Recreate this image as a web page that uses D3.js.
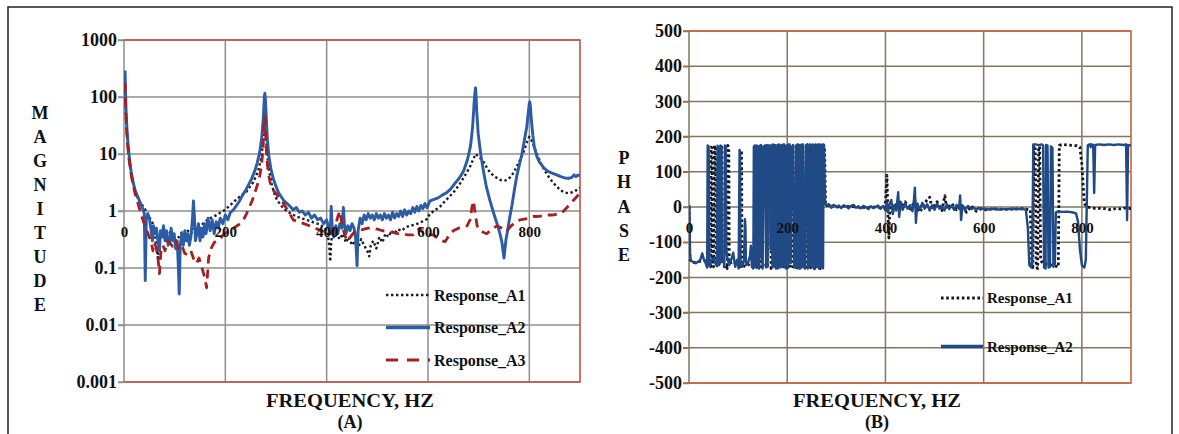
<!DOCTYPE html>
<html>
<head>
<meta charset="utf-8">
<script src="https://cdn.jsdelivr.net/npm/d3@7"></script>
<style>
body { margin: 0; background: #fff; }
svg { display: block; }
text { font-family: "Liberation Serif", "Times New Roman", serif; font-weight: bold; }
</style>
</head>
<body>
<svg width="1179" height="434"></svg>
<script>
// ---- data ----
var freqTicks = [0, 200, 400, 600, 800];
var magTicks = [0.001, 0.01, 0.1, 1, 10, 100, 1000];
var magTickLabels = ["0.001", "0.01", "0.1", "1", "10", "100", "1000"];
var phaseTicks = [-500, -400, -300, -200, -100, 0, 100, 200, 300, 400, 500];
var seriesNames = ["Response_A1", "Response_A2", "Response_A3"];

// magnitude, [Hz, value]
var magA1 = [[2,150],[4,40],[6,20],[8,12],[11,7],[14,4.5],[18,3],[22,2.2],[27,1.7],[32,1.4],[38,1.2],[45,0.95],[51,0.75],[57,0.6],[61,0.4],[64,0.22],[67,0.15],[69,0.3],[73,0.4],[78,0.35],[84,0.45],[90,0.42],[96,0.38],[102,0.3],[108,0.35],[114,0.42],[120,0.38],[126,0.45],[132,0.4],[138,0.48],[144,0.5],[150,0.55],[156,0.6],[163,0.68],[170,0.75],[177,0.8],[183,0.85],[189,0.92],[196,1.0],[202,1.1],[209,1.25],[215,1.4],[222,1.6],[229,1.8],[236,2.0],[242,2.2],[249,2.7],[255,3.2],[261,4.2],[266,5.5],[270,8],[274,14],[277,30],[278,40],[280,20],[283,9],[287,4.8],[292,2.8],[297,2.0],[302,1.55],[310,1.25],[321,1.0],[331,0.88],[341,0.8],[351,0.74],[361,0.7],[374,0.63],[387,0.58],[396,0.5],[402,0.4],[405,0.25],[407,0.13],[409,0.3],[413,0.42],[420,0.38],[426,0.32],[432,0.4],[438,0.28],[444,0.35],[450,0.25],[456,0.3],[462,0.22],[468,0.32],[474,0.25],[480,0.2],[484,0.16],[487,0.25],[492,0.3],[498,0.22],[504,0.35],[510,0.28],[516,0.4],[522,0.35],[528,0.45],[534,0.4],[540,0.48],[548,0.45],[556,0.52],[565,0.55],[575,0.58],[584,0.62],[592,0.68],[598,0.72],[604,0.9],[612,1.0],[624,1.2],[637,1.6],[650,2.1],[663,3.0],[675,4.5],[683,6],[689,8],[694,10],[700,9],[709,7.5],[716,5.8],[722,4.8],[729,4.2],[736,3.8],[743,3.5],[750,3.4],[756,3.5],[762,3.9],[769,4.7],[775,6],[782,8],[789,11],[795,16],[800,20],[805,17],[810,13],[815,10],[822,7],[830,5.2],[838,4],[846,3.2],[854,2.7],[862,2.3],[870,2.1],[878,2.05],[886,2.15],[892,2.3],[900,2.55]];

var magA2 = [[2,290],[4,60],[6,25],[8,15],[11,8],[14,5],[18,3.2],[22,2.3],[27,1.8],[32,1.4],[37,1.1],[40,0.9],[42,0.06],[44,0.7],[47,0.9],[50,0.75],[53,0.5],[56,0.3],[58,0.55],[61,0.4],[64,0.5],[67,0.3],[70,0.2],[72,0.45],[75,0.35],[78,0.55],[81,0.3],[84,0.45],[87,0.25],[90,0.3],[93,0.5],[96,0.3],[99,0.4],[102,0.22],[105,0.3],[107,0.12],[109,0.035],[111,0.25],[114,0.4],[117,0.25],[120,0.45],[123,0.3],[126,0.4],[129,0.25],[132,0.35],[135,0.7],[137,1.5],[139,0.8],[141,0.3],[144,0.4],[147,0.6],[150,0.3],[153,0.5],[156,0.35],[159,0.6],[162,0.4],[166,0.75],[170,0.45],[174,0.7],[178,0.4],[182,0.65],[186,0.5],[190,0.75],[195,0.6],[200,0.85],[205,0.7],[210,0.95],[216,1.05],[222,1.25],[228,1.5],[234,1.9],[240,2.3],[246,2.9],[252,3.7],[258,5],[263,7],[268,11],[272,20],[275,45],[277,100],[278,117],[279,95],[281,40],[283,18],[286,9],[290,5.5],[295,3.6],[300,2.7],[305,2.1],[310,1.8],[316,1.5],[322,1.35],[328,1.2],[334,1.05],[340,1.15],[346,0.95],[352,1.0],[358,0.85],[364,0.95],[370,0.75],[376,0.85],[382,0.7],[388,0.75],[394,0.6],[400,0.7],[404,0.5],[407,0.4],[409,1.2],[411,0.5],[414,0.35],[418,0.55],[422,0.4],[426,0.6],[430,0.5],[433,1.15],[435,0.6],[438,0.4],[442,0.55],[446,0.45],[450,0.6],[454,0.5],[457,0.35],[460,0.11],[462,0.45],[466,0.75],[470,0.6],[474,0.85],[478,0.7],[482,0.9],[486,0.75],[490,0.85],[494,0.7],[498,0.9],[502,0.75],[506,0.85],[510,0.7],[514,0.9],[518,0.75],[522,0.85],[526,0.7],[530,0.95],[534,0.75],[538,0.9],[542,0.8],[546,1.0],[550,0.8],[554,1.05],[558,0.85],[562,1.0],[566,0.9],[570,1.15],[574,0.95],[578,1.2],[582,1.0],[586,1.25],[590,1.1],[594,1.35],[598,1.15],[604,1.5],[612,1.6],[620,1.7],[628,1.9],[637,2.1],[644,2.4],[650,2.8],[655,3.2],[660,3.6],[665,4.2],[670,5.0],[674,6.3],[678,8],[681,10.5],[684,14],[686,20],[688,30],[690,55],[691,80],[693,130],[694,145],[695,100],[696,60],[699,23],[704,10],[709,5.3],[715,2.7],[722,1.55],[729,0.95],[736,0.61],[742,0.4],[746,0.28],[748,0.2],[750,0.15],[752,0.22],[754,0.32],[756,0.4],[761,0.75],[766,1.3],[770,2.2],[775,4],[780,6.3],[785,9.6],[790,17],[795,30],[798,55],[800,78],[801,82],[802,70],[804,40],[807,21],[810,13],[815,9],[820,7.2],[828,5.8],[836,5.0],[845,4.6],[854,4.3],[862,4.0],[870,3.8],[878,3.75],[884,3.9],[888,4.3],[892,4.0],[896,4.3],[900,4.1]];

var magA3 = [[2,175],[3,80],[5,30],[7,15],[10,8],[13,5],[17,3.2],[22,2.0],[27,1.4],[32,1.0],[36,0.75],[40,0.6],[45,0.45],[50,0.35],[54,0.28],[57,0.2],[60,0.28],[64,0.22],[67,0.15],[70,0.08],[73,0.2],[77,0.25],[81,0.2],[85,0.3],[90,0.28],[96,0.24],[102,0.3],[108,0.22],[114,0.25],[120,0.18],[126,0.17],[132,0.2],[138,0.14],[143,0.12],[148,0.15],[154,0.1],[159,0.07],[163,0.045],[167,0.15],[172,0.22],[178,0.28],[184,0.3],[190,0.33],[196,0.38],[202,0.42],[209,0.46],[216,0.5],[223,0.55],[230,0.6],[236,0.7],[242,0.9],[248,1.2],[254,1.6],[259,2.2],[264,3.0],[268,4.2],[271,6],[274,11],[276,25],[278,45],[280,18],[282,8],[285,4.5],[289,3.0],[295,2.3],[304,1.8],[314,1.4],[324,1.0],[334,0.7],[344,0.65],[355,0.6],[366,0.55],[377,0.5],[387,0.46],[398,0.42],[408,0.4],[416,0.5],[422,0.8],[426,1.0],[430,0.6],[435,0.4],[440,0.3],[447,0.35],[454,0.42],[460,0.45],[466,0.46],[474,0.48],[482,0.5],[492,0.5],[500,0.48],[510,0.45],[519,0.45],[530,0.42],[540,0.4],[550,0.4],[560,0.38],[571,0.38],[578,0.45],[584,0.5],[590,0.42],[598,0.38],[610,0.38],[620,0.33],[628,0.3],[634,0.29],[642,0.38],[650,0.45],[660,0.5],[668,0.52],[677,0.55],[683,0.7],[687,1.2],[690,1.5],[693,0.9],[697,0.55],[703,0.45],[710,0.42],[716,0.4],[722,0.45],[729,0.5],[736,0.55],[746,0.5],[756,0.45],[764,0.55],[772,0.62],[782,0.7],[790,0.72],[800,0.75],[808,0.8],[816,0.8],[825,0.82],[835,0.85],[845,0.85],[855,0.88],[861,0.9],[868,1.0],[876,1.2],[886,1.5],[894,1.8],[900,2.1]];

// phase, [Hz, degrees]
var phaseA1 = [[0,0],[2,-150],[5,-155],[10,-158],[20,-155],[30,-150],[40,-160],[44,-170],[45,170],[47,168],[48,-165],[50,-170],[52,175],[54,170],[55,-160],[58,-165],[62,-150],[64,-160],[65,172],[67,170],[68,-150],[72,-170],[76,-165],[78,-175],[79,175],[81,170],[82,-160],[90,-155],[100,-165],[104,-170],[105,160],[107,155],[108,-165],[115,-170],[125,-160],[135,-165],[140,-175],[144,172],[146,170],[147,-170],[155,-165],[160,-172],[163,170],[166,168],[167,-175],[172,-170],[174,175],[177,172],[178,-172],[184,-175],[185,172],[188,170],[189,-170],[193,-175],[195,175],[200,170],[202,-172],[206,-175],[208,170],[211,165],[212,-175],[216,-172],[218,175],[220,170],[221,-170],[226,-174],[228,172],[232,170],[233,-175],[238,-172],[240,170],[243,168],[244,-175],[250,-170],[252,172],[255,170],[256,-176],[260,-174],[262,175],[266,170],[267,-175],[270,-172],[272,175],[276,172],[278,5],[290,3],[300,0],[320,2],[340,0],[360,-2],[380,0],[395,-3],[400,10],[403,90],[405,-20],[407,-88],[409,5],[415,-15],[420,10],[430,-5],[440,15],[450,-10],[460,20],[470,-15],[480,12],[490,28],[495,-5],[505,15],[515,-10],[521,32],[525,-5],[535,10],[545,-8],[555,5],[565,-15],[575,3],[585,-12],[595,-5],[605,-8],[620,-5],[640,-7],[660,-6],[680,-5],[695,-8],[698,-160],[700,-172],[702,175],[705,170],[707,-170],[710,-175],[712,170],[714,172],[716,-150],[720,-160],[740,-165],[752,-170],[754,175],[760,178],[770,176],[780,175],[790,174],[796,170],[800,120],[805,10],[810,0],[820,-2],[830,-5],[840,-3],[850,-6],[860,-8],[870,-4],[880,-6],[890,-2],[900,-5]];

var phaseA2 = [[0,5],[1,2],[2,-135],[4,-152],[9,-157],[14,-160],[19,-155],[23,-150],[27,-132],[30,-148],[34,-160],[37,-172],[38,175],[40,172],[42,-168],[46,-150],[50,-145],[54,-160],[57,-168],[58,174],[60,170],[61,-165],[63,-160],[64,175],[66,172],[67,-155],[70,-150],[72,-170],[73,175],[75,172],[76,-120],[78,-145],[82,-165],[86,-150],[90,-130],[94,-170],[98,-150],[101,-175],[103,162],[104,158],[105,-160],[108,-170],[112,-150],[114,-35],[115,-60],[116,-165],[120,-160],[124,-140],[126,-110],[128,-170],[131,-175],[132,172],[134,175],[135,-170],[137,-172],[138,175],[140,173],[141,-165],[143,-175],[145,175],[147,176],[148,-130],[150,-175],[152,172],[155,175],[157,-172],[158,176],[160,-170],[161,175],[165,175],[166,-120],[167,175],[170,-172],[171,178],[174,-168],[175,176],[177,-175],[179,-170],[180,176],[182,-172],[183,178],[186,-172],[188,176],[191,-170],[192,178],[194,178],[196,-170],[198,-175],[199,175],[202,-172],[203,178],[205,178],[207,-160],[209,170],[212,176],[214,-172],[217,-170],[218,175],[220,-174],[221,178],[222,178],[224,-174],[226,176],[229,-172],[230,178],[232,178],[234,-170],[236,-175],[238,176],[241,178],[242,-175],[245,-165],[246,178],[249,176],[250,-172],[252,178],[255,-175],[257,178],[260,-170],[262,178],[263,-172],[264,178],[265,-175],[267,178],[270,-170],[272,178],[273,-174],[274,178],[275,176],[277,10],[279,5],[285,8],[290,-2],[295,6],[300,0],[305,4],[310,-3],[315,5],[320,2],[325,-4],[330,3],[335,6],[340,-2],[345,2],[350,-4],[355,3],[360,0],[365,-6],[370,2],[375,-3],[380,0],[385,4],[390,-5],[395,3],[400,-10],[403,12],[405,-15],[408,8],[412,20],[415,-20],[418,5],[422,-10],[426,42],[428,-28],[431,15],[435,-8],[440,10],[445,-5],[450,5],[455,-12],[458,20],[460,55],[462,-45],[465,10],[470,-8],[475,12],[480,-5],[485,8],[490,-10],[495,5],[500,-8],[505,10],[510,-5],[515,2],[520,-10],[525,8],[530,-6],[535,4],[540,-8],[545,6],[550,-5],[552,33],[554,-37],[557,5],[562,-8],[568,3],[575,-6],[580,-2],[585,-8],[590,-3],[595,-6],[600,-4],[610,-7],[620,-5],[630,-7],[640,-6],[650,-6],[660,-5],[670,-6],[680,-5],[686,-8],[690,-60],[693,-165],[697,-172],[699,-150],[701,178],[706,178],[712,176],[718,178],[721,175],[723,-172],[726,-175],[727,176],[730,175],[732,-172],[735,-170],[737,172],[740,168],[742,-170],[745,-160],[747,-15],[752,-12],[760,-14],[770,-13],[780,-15],[788,-18],[792,-40],[796,-120],[800,-165],[805,-172],[808,-150],[812,175],[816,178],[818,170],[820,178],[823,176],[825,40],[827,176],[835,178],[845,176],[855,178],[865,176],[875,178],[885,176],[890,178],[892,-37],[894,176],[900,175]];

// ---- drawing ----
var svg = d3.select("svg");

svg.append("rect")
    .attr("x", 8).attr("y", 7)
    .attr("width", 1164).attr("height", 440)
    .attr("fill", "none").attr("stroke", "#222").attr("stroke-width", 1.5);

function drawPanel(p) {
  var x = p.x, y = p.y;
  var x0 = x.range()[0], x1 = x.range()[1];
  var yb = y.range()[0], yt = y.range()[1];
  var g = svg.append("g");

  // grid
  g.selectAll("line.hgrid").data(p.yTicks).enter().append("line")
      .attr("x1", x0 - 6).attr("x2", x1)
      .attr("y1", function(d) { return y(d); }).attr("y2", function(d) { return y(d); })
      .attr("stroke", p.grid).attr("stroke-width", 1.5);
  g.selectAll("line.vgrid").data(freqTicks).enter().append("line")
      .attr("x1", function(d) { return x(d); }).attr("x2", function(d) { return x(d); })
      .attr("y1", yt).attr("y2", yb)
      .attr("stroke", p.grid).attr("stroke-width", 1.5);

  // border (top, right, bottom)
  g.append("path")
      .attr("d", "M" + x0 + "," + yt + "H" + x1 + "V" + yb + "H" + x0)
      .attr("fill", "none").attr("stroke", p.border).attr("stroke-width", 1.6);

  // clip
  svg.append("clipPath").attr("id", p.id + "clip").append("rect")
      .attr("x", x0).attr("y", yt - 2).attr("width", x1 - x0).attr("height", yb - yt + 4);

  var line = d3.line()
      .x(function(d) { return x(d[0]); })
      .y(function(d) { return y(d[1]); });

  var lg = g.append("g").attr("clip-path", "url(#" + p.id + "clip)");
  p.series.forEach(function(s) {
    lg.append("path")
        .datum(s.data)
        .attr("d", line)
        .attr("fill", "none")
        .attr("stroke", s.color)
        .attr("stroke-width", s.width)
        .attr("stroke-dasharray", s.dash)
        .attr("stroke-linejoin", "round");
  });

  // y axis labels
  var ya = g.append("g")
      .attr("transform", "translate(" + x0 + ",0)")
      .call(d3.axisLeft(y).tickValues(p.yTicks).tickFormat(p.yFormat).tickSize(6).tickPadding(1));
  ya.attr("font-size", 18).attr("font-family", null);
  ya.select(".domain").remove();
  ya.selectAll("line").attr("stroke", p.grid).attr("stroke-width", 1.5);
  ya.selectAll("text").attr("fill", "#111");

  // x axis labels, sitting on the crossing value
  var xa = g.append("g")
      .attr("transform", "translate(0," + y(p.cross) + ")")
      .call(d3.axisBottom(x).tickValues(freqTicks).tickSize(0).tickPadding(15));
  xa.attr("font-size", 15).attr("font-family", null);
  xa.select(".domain").remove();
  xa.selectAll("text").attr("fill", "#111");

  // titles
  g.selectAll("text.ytitle").data(p.yTitle.split("")).enter().append("text")
      .attr("x", p.yTitleX)
      .attr("y", function(d, i) { return p.yTitleY + i * p.yTitleStep; })
      .attr("text-anchor", "middle").attr("dominant-baseline", "central")
      .attr("font-size", 18).attr("fill", "#111")
      .text(function(d) { return d; });

  var cx = p.titleX;
  g.append("text")
      .attr("x", cx).attr("y", 400)
      .attr("text-anchor", "middle").attr("dominant-baseline", "central")
      .attr("font-size", 19).attr("fill", "#111")
      .attr("textLength", 168).attr("lengthAdjust", "spacingAndGlyphs")
      .text("FREQUENCY, HZ");
  g.append("text")
      .attr("x", cx).attr("y", 422)
      .attr("text-anchor", "middle").attr("dominant-baseline", "central")
      .attr("font-size", 18).attr("fill", "#111")
      .text(p.label);

  // legend
  var leg = g.selectAll("g.leg").data(p.series).enter().append("g")
      .attr("transform", function(d, i) { return "translate(" + p.legX + "," + (p.legY + i * p.legStep) + ")"; });
  leg.append("line")
      .attr("x1", 0).attr("x2", p.legLen)
      .attr("stroke", function(d) { return d.color; })
      .attr("stroke-width", function(d) { return d.legWidth || d.width; })
      .attr("stroke-dasharray", function(d) { return d.legDash || d.dash; });
  leg.append("text")
      .attr("x", p.legLen + 4)
      .attr("dominant-baseline", "central")
      .attr("font-size", p.legFont).attr("fill", "#111")
      .text(function(d) { return d.name; });
}

drawPanel({
  id: "A",
  x: d3.scaleLinear().domain([0, 900]).range([124, 580]),
  y: d3.scaleLog().domain([0.001, 1000]).range([382, 40]),
  yTicks: magTicks,
  yFormat: function(d, i) { return magTickLabels[i]; },
  cross: 1,
  grid: "#8e8e8e",
  border: "#c0504d",
  yTitle: "MAGNITUDE", yTitleX: 40, yTitleY: 113, yTitleStep: 24,
  titleX: 350, label: "(A)",
  legX: 386, legY: 295, legStep: 32.5, legLen: 44, legFont: 16,
  series: [
    {name: seriesNames[0], data: magA1, color: "#1b1b2e", width: 2.4, dash: "2.4,2.6"},
    {name: seriesNames[1], data: magA2, color: "#2b5ca6", width: 2.9, dash: null, legWidth: 3.5},
    {name: seriesNames[2], data: magA3, color: "#a52020", width: 2.8, dash: "9,6", legDash: "12,9"}
  ]
});

drawPanel({
  id: "B",
  x: d3.scaleLinear().domain([0, 900]).range([689, 1131]),
  y: d3.scaleLinear().domain([-500, 500]).range([383, 31]),
  yTicks: phaseTicks,
  yFormat: function(d) { return d; },
  cross: 0,
  grid: "#857660",
  border: "#d0603a",
  yTitle: "PHASE", yTitleX: 624, yTitleY: 158, yTitleStep: 24.3,
  titleX: 877, label: "(B)",
  legX: 941, legY: 298, legStep: 48.5, legLen: 42, legFont: 15,
  series: [
    {name: seriesNames[0], data: phaseA1, color: "#15151f", width: 2.8, dash: "2.6,2.6"},
    {name: seriesNames[1], data: phaseA2, color: "#1f4a85", width: 2.4, dash: null, legWidth: 3.5}
  ]
});
</script>
</body>
</html>
